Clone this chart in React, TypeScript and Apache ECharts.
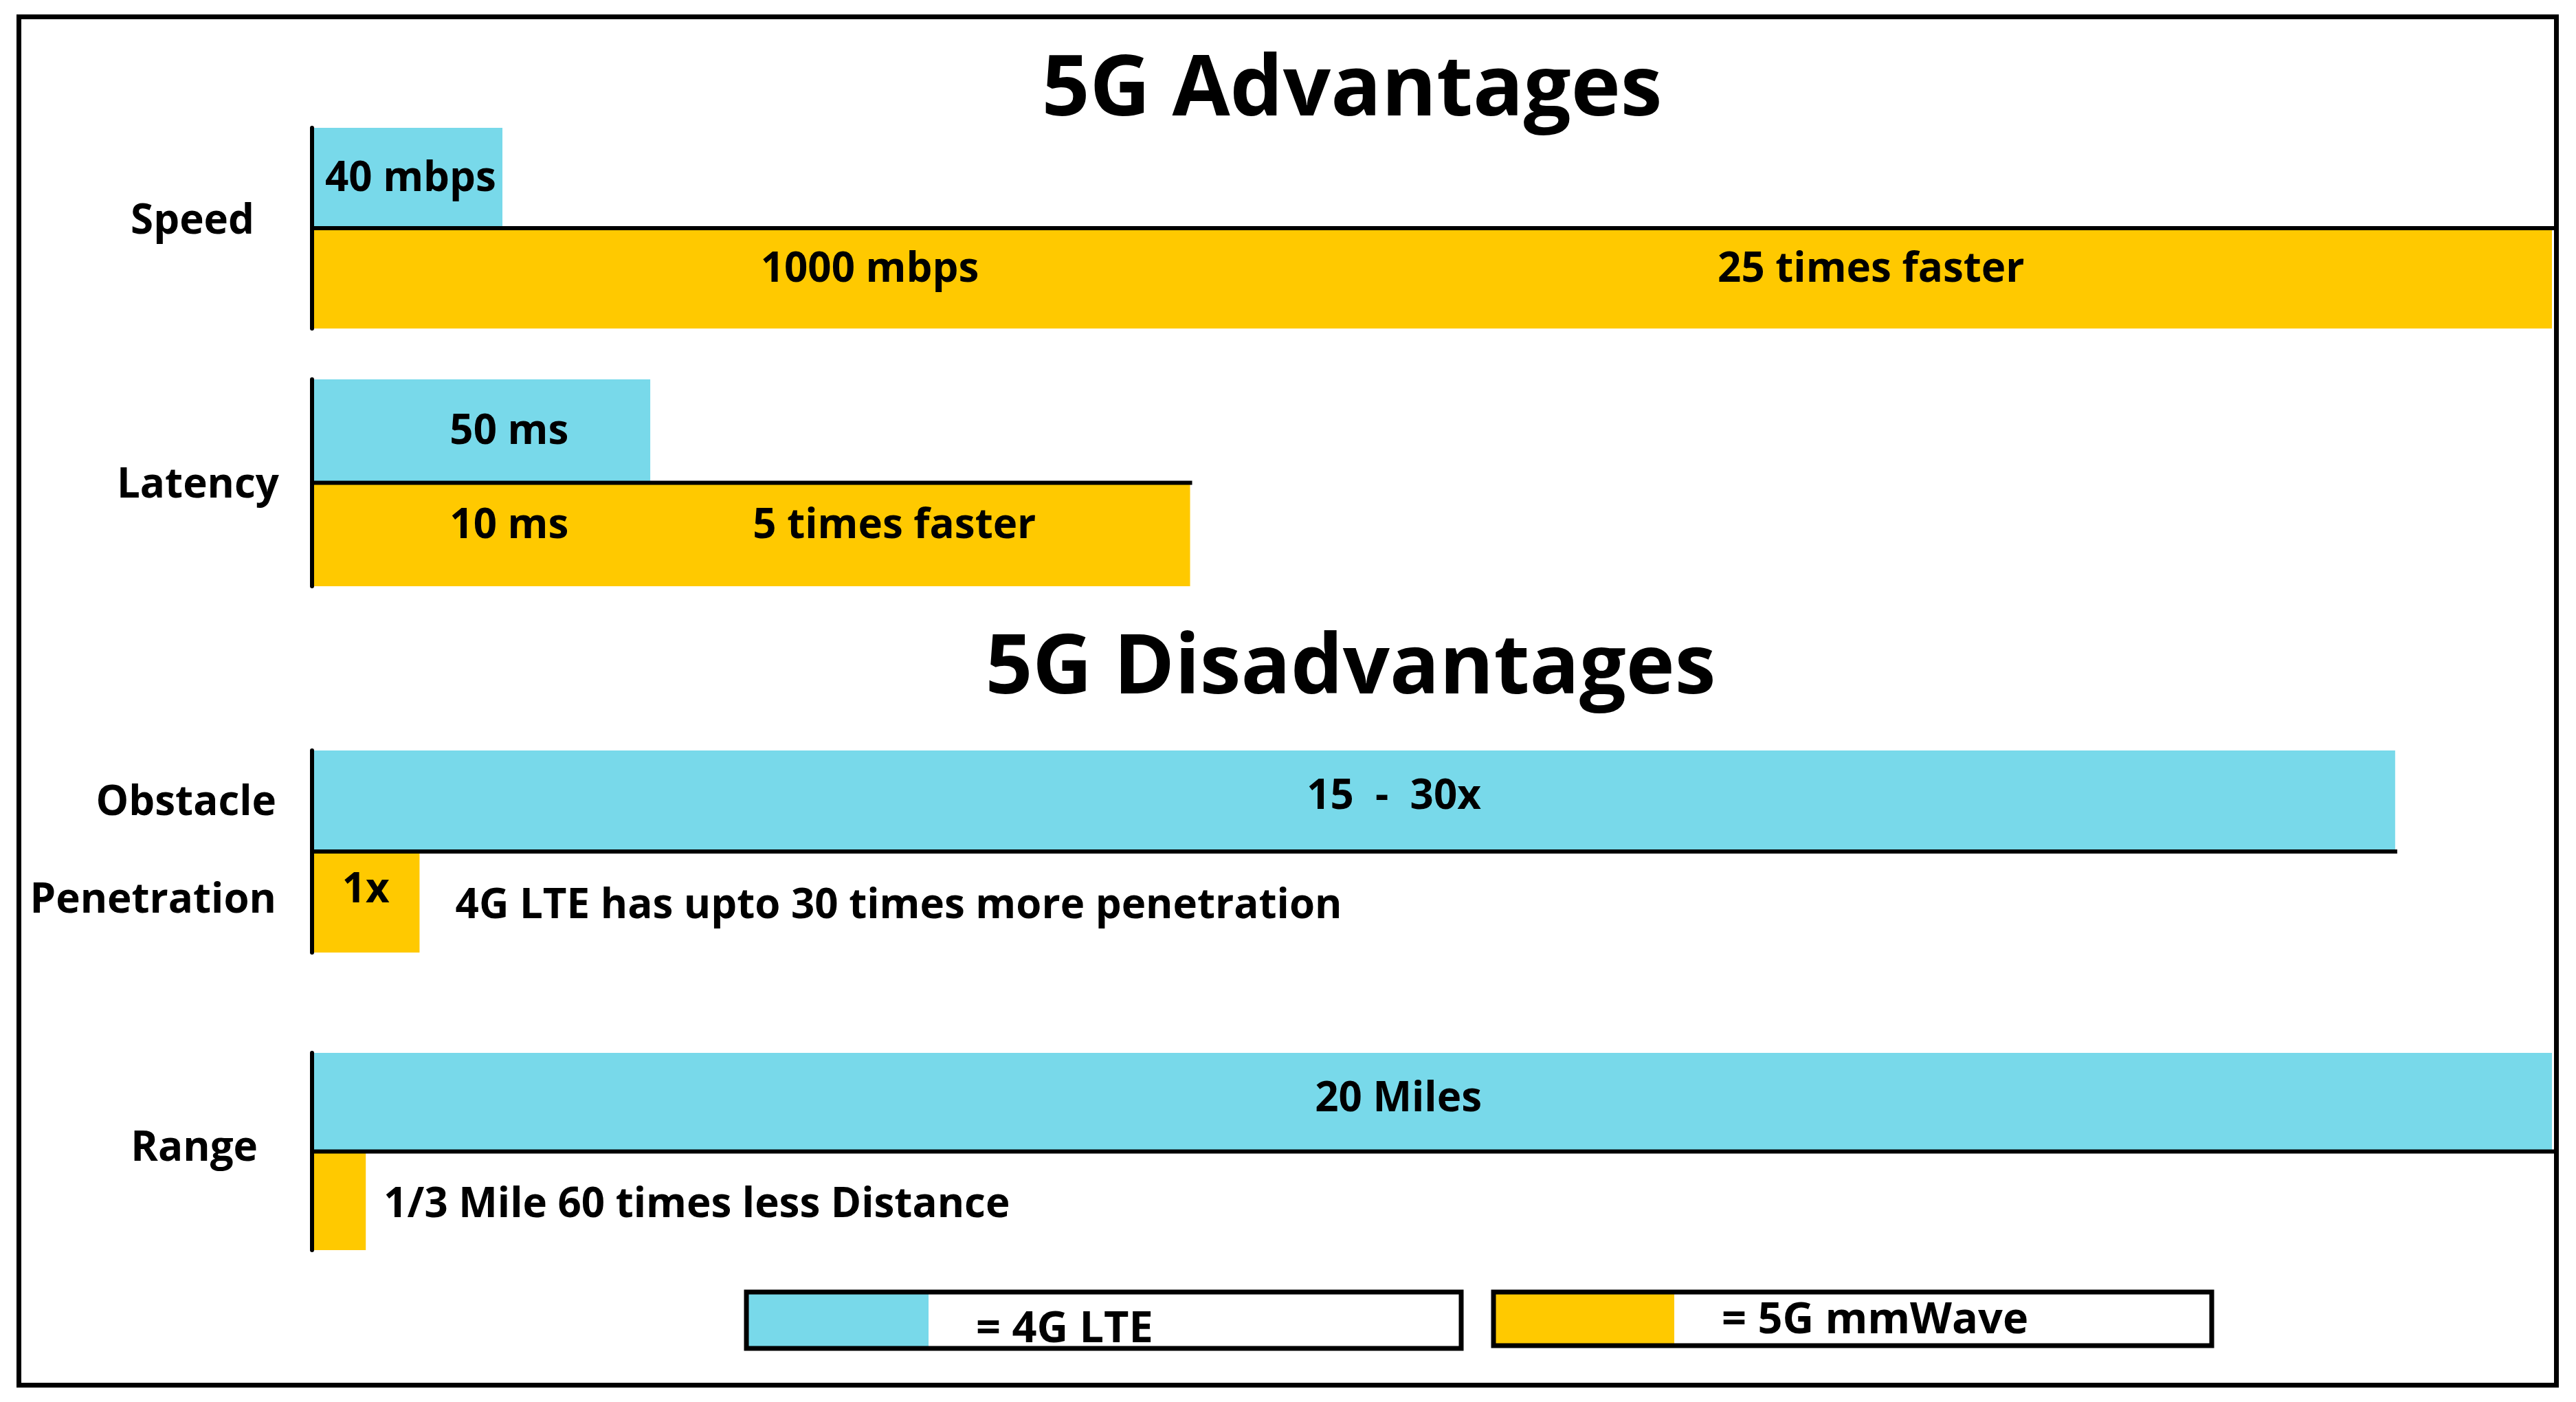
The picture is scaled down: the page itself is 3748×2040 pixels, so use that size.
import React, { useEffect, useRef } from 'react';
import * as echarts from 'echarts';

// ---------------- data ----------------
const categories = ['Speed', 'Latency', 'Obstacle\nPenetration', 'Range'];
const seriesNames = ['4G LTE', '5G mmWave'];
// bar lengths, expressed as percent of the plot width
const lteValues = [8.5, 15.1, 93.0, 100];
const mmWaveValues = [100, 39.2, 4.8, 2.4];
const lteLabels = ['40 mbps', '50 ms', '15  -  30x', '20 Miles'];
const mmWaveLabels = ['1000 mbps', '10 ms', '1x', ''];
const comparisonNotes = [
  '25 times faster',
  '5 times faster',
  '4G LTE has upto 30 times more penetration',
  '1/3 Mile 60 times less Distance',
];
const sectionTitles = ['5G Advantages', '5G Disadvantages'];

// ---------------- layout & style ----------------
const W = 3748;
const H = 2040;
const FONT = '"Open Sans", "Noto Sans", "DejaVu Sans", sans-serif';
const COLORS = ['#78D9EA', '#FFC900'];
const GRID_LEFT = 454;
const GRID_RIGHT = 35;
const GRID_BOXES = [
  { top: 186, height: 292 },
  { top: 552, height: 301 },
  { top: 1092, height: 294 },
  { top: 1532, height: 287 },
];
const SHIFT = -4;
// label placement per group: x in % of plot, row (0 = 4G row centre, 1 = 5G row centre), dy px
const LABEL_POS = [
  { lte: { x: 4.4, dy: 0 }, mm: { x: 24.9, dy: -14 }, note: { x: 69.6, dy: -14, align: 'center' } },
  { lte: { x: 8.8, dy: 0 }, mm: { x: 8.8, dy: -14 }, note: { x: 26.0, dy: -14, align: 'center' } },
  { lte: { x: 48.3, dy: -8 }, mm: { x: 2.4, dy: -19 }, note: { x: 6.4, dy: 4, align: 'left' } },
  { lte: { x: 48.5, dy: -6 }, mm: { x: 1.2, dy: 0 }, note: { x: 3.2, dy: 5, align: 'left' } },
];
// category label: offset (px) of the right edge from the axis, dy per line
const CAT_POS = [
  { off: 84, dy: [-11] },
  { off: 48, dy: [2] },
  { off: 52, dy: [1, -4] },
  { off: 79, dy: [-6] },
];
const LABEL_SIZE = 60;

type TextEntry = { text: string; x: number; px?: number; row: number; dy: number; align: string };

function buildEntries(i: number): TextEntry[] {
  const p = LABEL_POS[i];
  const list: TextEntry[] = [];
  if (lteLabels[i]) list.push({ text: lteLabels[i], x: p.lte.x, row: 0, dy: p.lte.dy + SHIFT, align: 'center' });
  if (mmWaveLabels[i]) list.push({ text: mmWaveLabels[i], x: p.mm.x, row: 1, dy: p.mm.dy + SHIFT, align: 'center' });
  if (comparisonNotes[i]) list.push({ text: comparisonNotes[i], x: p.note.x, row: 1, dy: p.note.dy + SHIFT, align: p.note.align });
  const lines = categories[i].split('\n');
  lines.forEach((ln, k) => {
    list.push({
      text: ln,
      x: 0,
      px: -CAT_POS[i].off,
      row: lines.length === 1 ? 0.5 : k,
      dy: CAT_POS[i].dy[k] + SHIFT,
      align: 'right',
    });
  });
  return list;
}

function buildOption(): any {
  const grid = GRID_BOXES.map((b) => ({ left: GRID_LEFT, right: GRID_RIGHT, top: b.top, height: b.height }));
  const xAxis = categories.map((_, i) => ({ type: 'value', gridIndex: i, min: 0, max: 100, show: false }));
  const yAxis = categories.map((_, i) => ({
    type: 'category',
    gridIndex: i,
    data: seriesNames,
    inverse: true,
    z: 5,
    axisLine: { show: true, lineStyle: { color: '#000', width: 6 } },
    axisTick: { show: false },
    axisLabel: { show: false },
    splitLine: { show: false },
  }));

  const series: any[] = [];
  categories.forEach((_, i) => {
    series.push({
      type: 'bar',
      name: 'group' + i,
      xAxisIndex: i,
      yAxisIndex: i,
      barCategoryGap: '0%',
      z: 2,
      data: [
        { value: lteValues[i], itemStyle: { color: COLORS[0] } },
        { value: mmWaveValues[i], itemStyle: { color: COLORS[1] } },
      ],
    });
    series.push({
      type: 'custom',
      xAxisIndex: i,
      yAxisIndex: i,
      z: 4,
      silent: true,
      data: [[Math.max(lteValues[i], mmWaveValues[i]), 0]],
      encode: { x: 0, y: 1 },
      renderItem: (params: any, api: any) => {
        const end = api.value(0);
        const a = api.coord([0, 0]);
        const b = api.coord([end, 0]);
        const band = api.size([0, 1])[1];
        const y = a[1] + band / 2;
        return {
          type: 'line',
          shape: { x1: a[0], y1: y, x2: b[0] + 3, y2: y },
          style: { stroke: '#000', lineWidth: 6 },
        };
      },
    });
    const entries = buildEntries(i);
    series.push({
      type: 'custom',
      xAxisIndex: i,
      yAxisIndex: i,
      z: 6,
      silent: true,
      clip: false,
      data: entries.map((e) => [e.x, 0]),
      encode: { x: 0, y: 1 },
      renderItem: (params: any, api: any) => {
        const e = entries[params.dataIndex];
        const c = api.coord([e.x, 0]);
        const band = api.size([0, 1])[1];
        const x = c[0] + (e.px || 0);
        const y = c[1] + e.row * band + e.dy;
        return {
          type: 'text',
          x,
          y,
          style: {
            text: e.text,
            fill: '#000',
            fontFamily: FONT,
            fontWeight: 'bold',
            fontSize: LABEL_SIZE,
            align: e.align,
            verticalAlign: 'middle',
            textAlign: e.align,
            textVerticalAlign: 'middle',
          },
        };
      },
    });
  });

  const textStyle = (size: number, align: string) => ({
    fill: '#000',
    fontFamily: FONT,
    fontWeight: 'bold',
    fontSize: size,
    align,
    verticalAlign: 'middle',
    textAlign: align,
    textVerticalAlign: 'middle',
  });

  const legendBoxes = [
    { x: 1086, y: 1880, w: 1040, h: 82, sw: 262, ty: 1928 },
    { x: 2173, y: 1880, w: 1045, h: 78, sw: 260, ty: 1915 },
  ];

  const graphic: any[] = [
    {
      type: 'rect',
      shape: { x: 27.5, y: 24.5, width: 3692, height: 1991 },
      style: { fill: 'none', stroke: '#000', lineWidth: 7 },
      z: 10,
    },
    { type: 'text', x: 1967, y: 121, style: { text: sectionTitles[0], ...textStyle(122, 'center') }, z: 10 },
    { type: 'text', x: 1965, y: 962, style: { text: sectionTitles[1], ...textStyle(120, 'center') }, z: 10 },
  ];
  legendBoxes.forEach((b, k) => {
    graphic.push({
      type: 'rect',
      shape: { x: b.x + 3, y: b.y + 3, width: b.sw, height: b.h - 6 },
      style: { fill: COLORS[k] },
      z: 10,
    });
    graphic.push({
      type: 'rect',
      shape: { x: b.x, y: b.y, width: b.w, height: b.h },
      style: { fill: 'none', stroke: '#000', lineWidth: 7 },
      z: 11,
    });
    graphic.push({
      type: 'text',
      x: b.x + b.sw + 72,
      y: b.ty,
      style: { text: '= ' + seriesNames[k], ...textStyle(63, 'left') },
      z: 11,
    });
  });

  return {
    animation: false,
    backgroundColor: '#ffffff',
    grid,
    xAxis,
    yAxis,
    series,
    graphic,
  };
}

export default function App() {
  const ref = useRef<HTMLDivElement>(null);
  useEffect(() => {
    if (!ref.current) return;
    const chart = echarts.init(ref.current, null, { renderer: 'svg' });
    chart.setOption(buildOption());
    return () => chart.dispose();
  }, []);
  return (
    <div
      ref={ref}
      style={{ position: 'fixed', left: 0, top: 0, width: W, height: H, background: '#fff' }}
    />
  );
}
